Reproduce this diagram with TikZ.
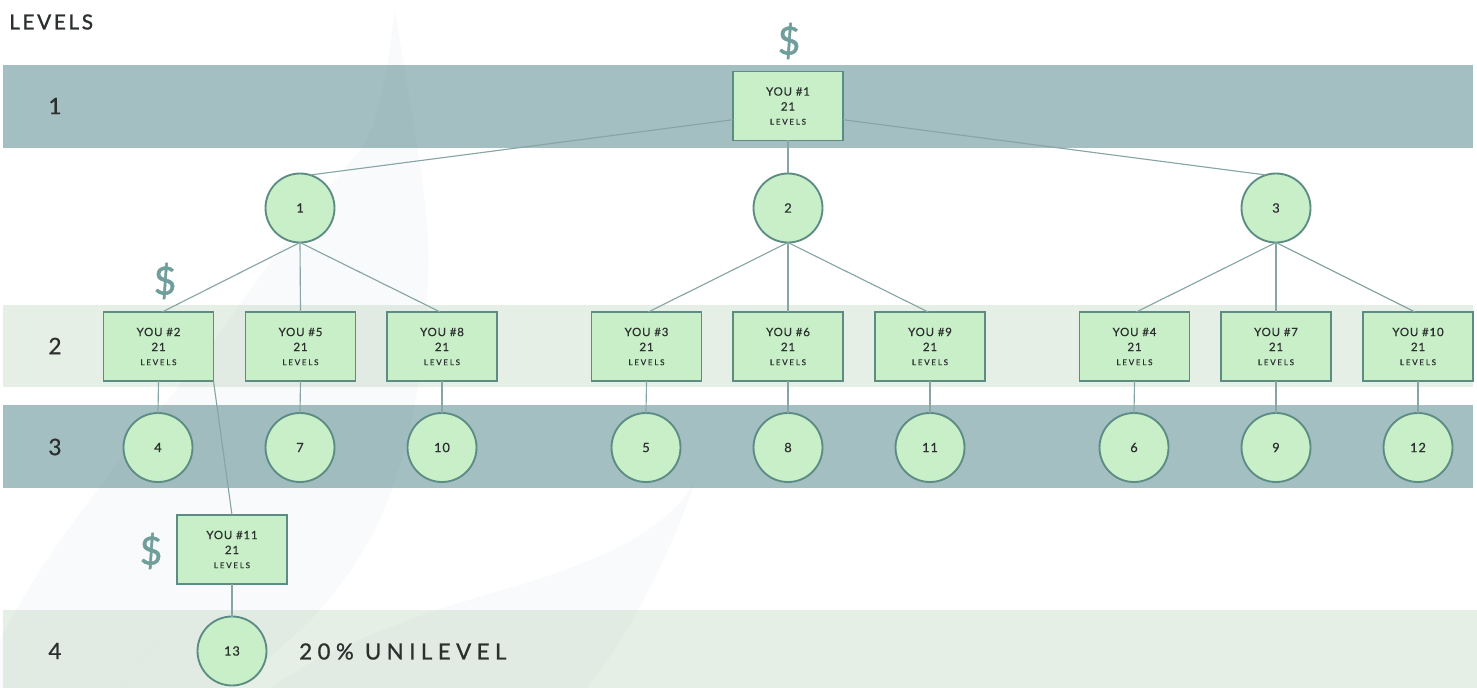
\documentclass[tikz,border=0pt]{standalone}
\usepackage{fontspec}
\setmainfont[FakeBold=.6]{Lato}
\newfontfamily\latoHead[LetterSpace=13,FakeBold=1.4]{Lato}
\newfontfamily\latoWide[LetterSpace=25,FakeBold=1]{Lato}
\newfontfamily\latoBox[LetterSpace=7,FakeBold=.6]{Lato}
\newfontfamily\latoSmall[LetterSpace=22,FakeBold=.7]{Lato}
\newfontfamily\latoDollar[FakeBold=1.4]{Lato}
\definecolor{banddark}{HTML}{A4BFC1}
\definecolor{bandlight}{HTML}{E6EFE6}
\definecolor{nodefill}{HTML}{C9EFC9}
\definecolor{nodeedge}{HTML}{5C8C84}
\definecolor{linkcol}{HTML}{86A5A4}
\definecolor{dollarcol}{HTML}{6F9E9B}
\definecolor{inkcol}{HTML}{2B2F2E}
\definecolor{wmark}{HTML}{5B7F92}
\tikzset{
  band/.style={fill=#1},
  mark shape/.style={fill=wmark,fill opacity=.035},
  youbox/.style={draw=nodeedge,fill=nodefill,line width=1.4pt,rectangle,minimum width=82.5pt,minimum height=51.75pt,inner sep=0pt,outer sep=0pt,align=center,text=inkcol,font=\latoBox\fontsize{8.6}{11.2}\selectfont},
  roundnode/.style={draw=nodeedge,fill=nodefill,line width=1.4pt,circle,minimum size=51.75pt,inner sep=0pt,outer sep=0pt,text=inkcol,font=\latoBox\fontsize{9.6}{11}\selectfont},
  link/.style={draw=linkcol,line width=.85pt},
  dollar/.style={text=dollarcol,font=\latoDollar\fontsize{29}{30}\selectfont,inner sep=0pt},
  bandnum/.style={text=inkcol,font=\fontsize{17}{18}\selectfont,inner sep=0pt},
}
\newcommand{\yb}[1]{YOU \##1\\21\\[-.6pt]{\latoSmall\fontsize{6}{8}\selectfont LEVELS}}
\begin{document}
\begin{tikzpicture}[x=.75pt,y=-.75pt]
\useasboundingbox (0,0) rectangle (1477,688);
% bands
\fill[band=banddark] (3,65) rectangle (1473,148);
\fill[band=bandlight] (3,305) rectangle (1473,387);
\fill[band=banddark] (3,405) rectangle (1473,488);
\fill[band=bandlight] (3,610) rectangle (1477,688);
% pale background leaves
\fill[mark shape] (395,10) .. controls (412,120) and (432,210) .. (428,280) .. controls (425,370) and (410,450) .. (380,520) .. controls (345,590) and (300,640) .. (225,688) -- (120,688) .. controls (170,620) and (230,560) .. (272,490) .. controls (310,430) and (370,300) .. (395,10) -- cycle;
\fill[mark shape] (395,10) .. controls (385,90) and (375,130) .. (360,150) .. controls (310,210) and (270,260) .. (215,340) .. controls (130,450) and (50,540) .. (0,640) -- (0,688) -- (120,688) .. controls (170,620) and (230,560) .. (272,490) .. controls (310,430) and (370,300) .. (395,10) -- cycle;
\fill[mark shape] (695,480) .. controls (680,530) and (640,620) .. (587,688) -- (270,688) .. controls (340,640) and (430,610) .. (520,585) .. controls (600,560) and (670,530) .. (695,480) -- cycle;
% heading
\node[inner sep=0pt,anchor=west,text=inkcol,font=\latoHead\fontsize{15.5}{18}\selectfont] (title) at (9,22) {LEVELS};
\node[bandnum] (n1) at (55,106) {1};
\node[bandnum] (n2) at (55,346) {2};
\node[bandnum] (n3) at (55,447) {3};
\node[bandnum] (n4) at (55,651) {4};
% nodes
\node[youbox] (b1) at (788,106) {\yb{1}};
\node[roundnode] (c1t) at (300,208) {1};
\node[roundnode] (c2t) at (788,208) {2};
\node[roundnode] (c3t) at (1276,208) {3};
\foreach \nm/\xx/\tt in {b2/158.5/2,b5/300.5/5,b8/442/8,b3/646.5/3,b6/788/6,b9/930/9,b4/1134.5/4,b7/1276/7,b10/1418/10}
  \node[youbox] (\nm) at (\xx,346.5) {\yb{\tt}};
\foreach \nm/\xx/\tt in {c4/158/4,c7/300/7,c10/442/10,c5/646/5,c8/788/8,c11/930/11,c6/1134/6,c9/1276/9,c12/1418/12}
  \node[roundnode] (\nm) at (\xx,447.5) {\tt};
\node[youbox] (b11) at (232,549.5) {\yb{11}};
\node[roundnode] (c13) at (232,651) {13};
% connectors
\draw[link] (b1.194) -- (c1t.73);
\draw[link] (b1.-14) -- (c3t.107);
\draw[link] (b1.south) -- (c2t.north);
\draw[link] (c1t.south) -- (b2.84);
\draw[link] (c1t.south) -- (b5.north);
\draw[link] (c1t.south) -- (b8.93);
\draw[link] (c2t.south) -- (b3.87);
\draw[link] (c2t.south) -- (b6.north);
\draw[link] (c2t.south) -- (b9.93);
\draw[link] (c3t.south) -- (b4.87);
\draw[link] (c3t.south) -- (b7.north);
\draw[link] (c3t.south) -- (b10.95);
\foreach \aa/\bb in {b2/c4,b5/c7,b8/c10,b3/c5,b6/c8,b9/c11,b4/c6,b7/c9,b10/c12}
  \draw[link] (\aa.south) -- (\bb.north);
\draw[link] (b2.south east) -- (b11.north);
\draw[link] (b11.south) -- (c13.north);
% dollars
\node[dollar] (d1) at (789,41) {\$};
\node[dollar] (d2) at (165,281) {\$};
\node[dollar] (d3) at (151,551) {\$};
\node[inner sep=0pt,anchor=west,text=inkcol,font=\latoWide\fontsize{16.6}{18}\selectfont] (uni) at (299,651.5) {20\% UNILEVEL};
\end{tikzpicture}
\end{document}
